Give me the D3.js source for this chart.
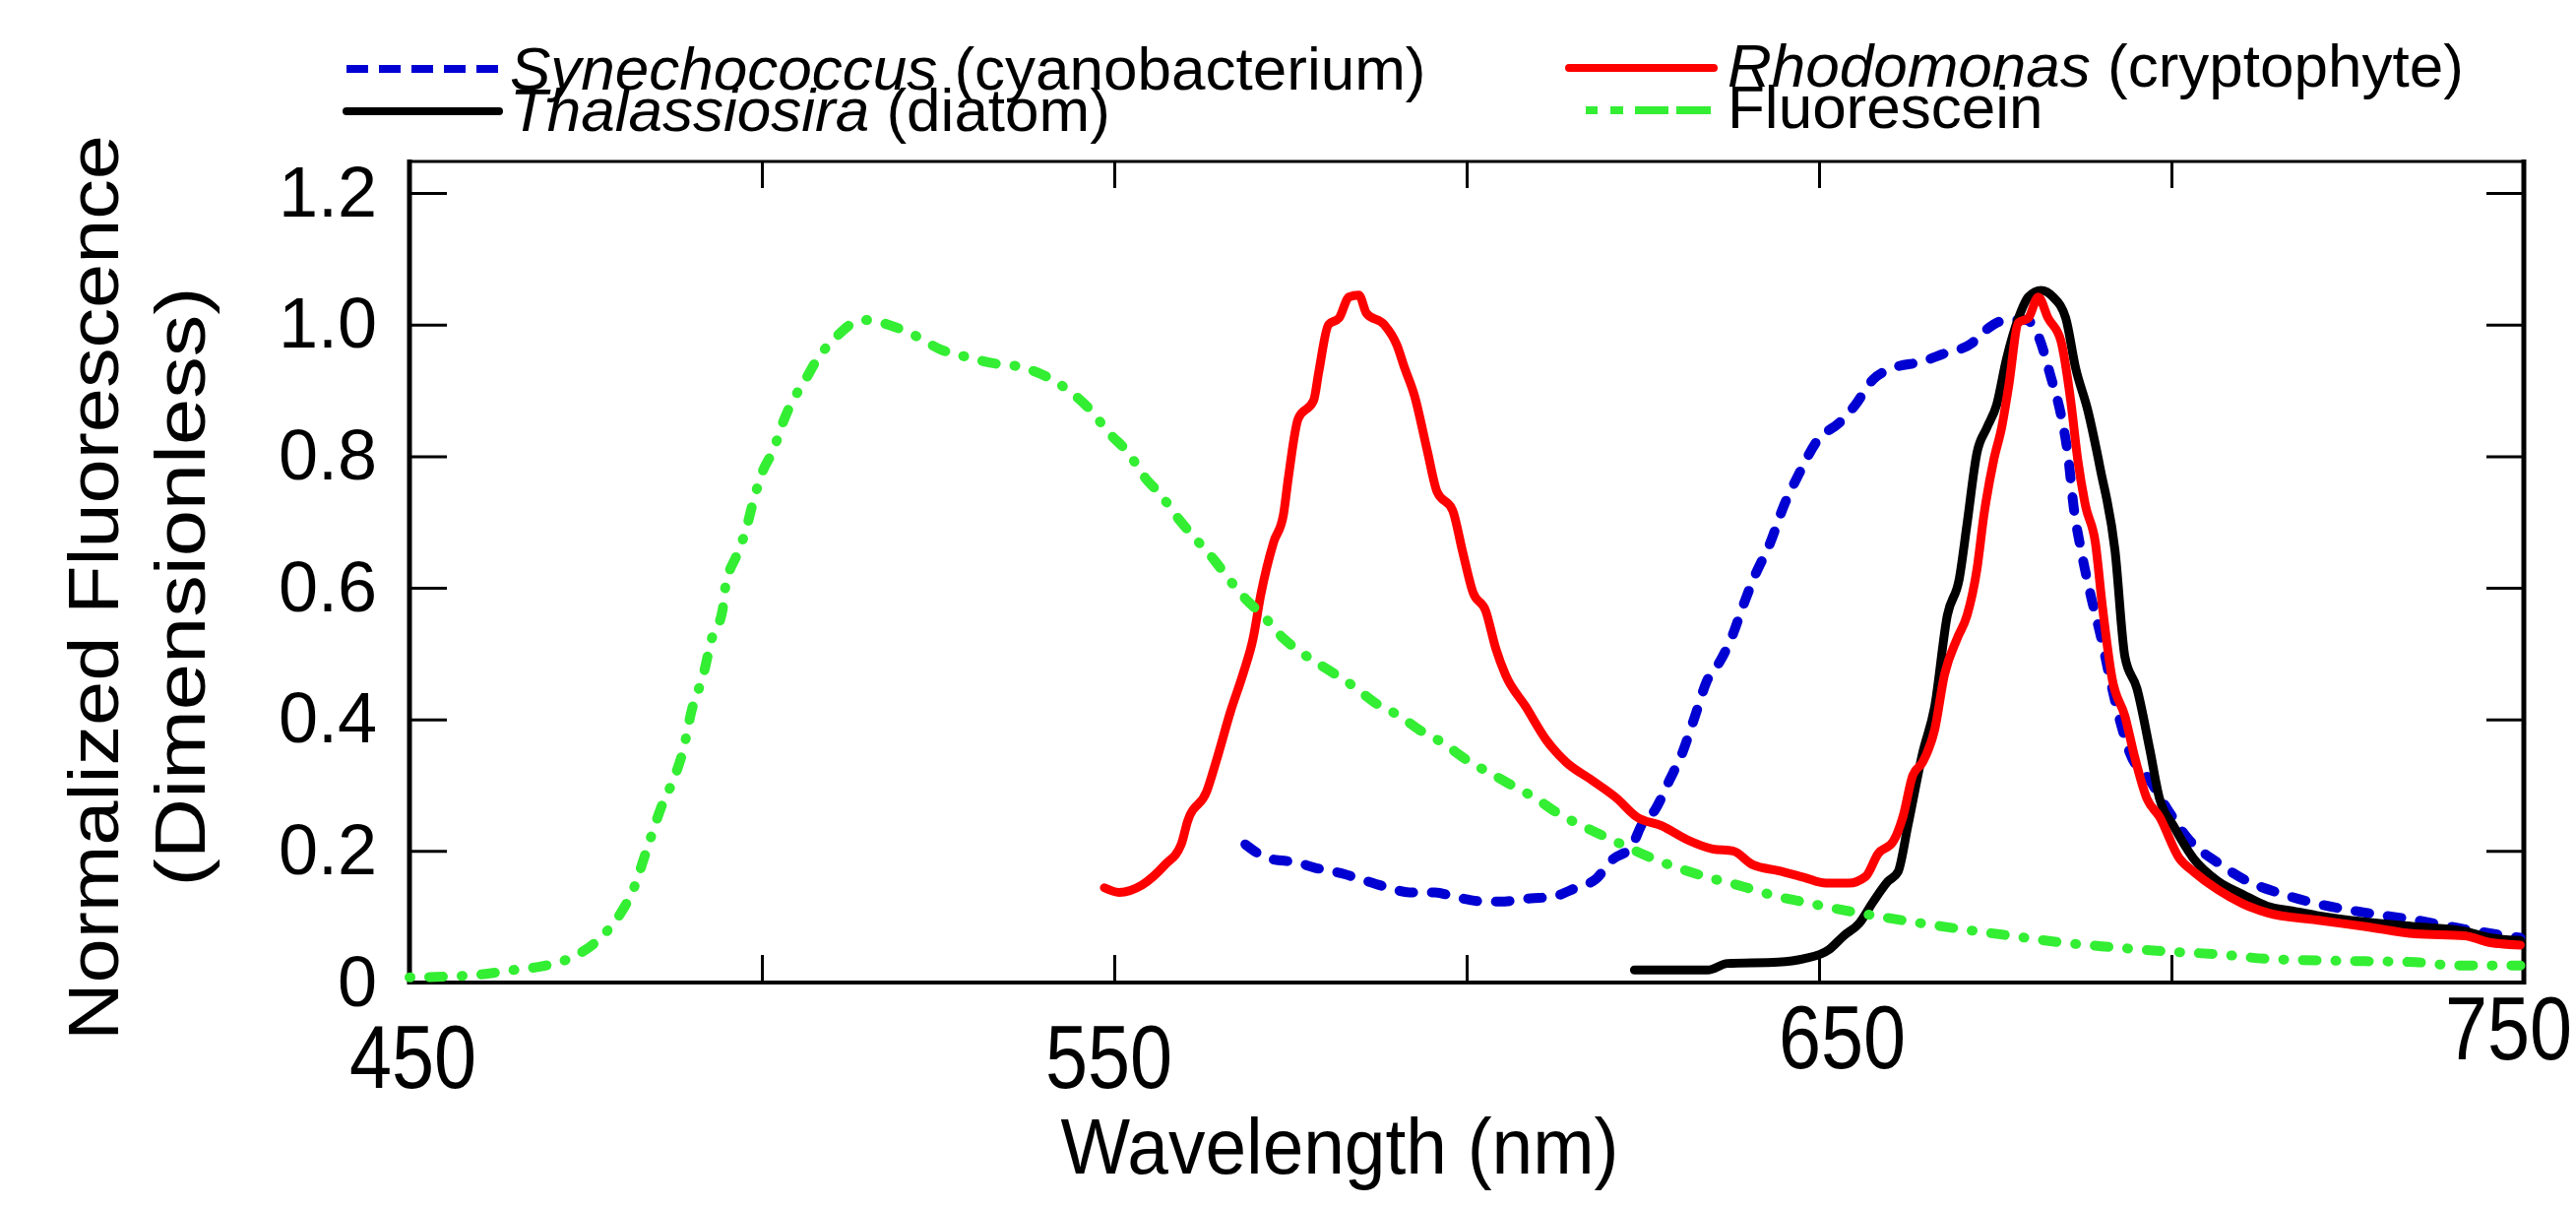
<!DOCTYPE html>
<html><head><meta charset="utf-8">
<script src="https://cdn.jsdelivr.net/npm/d3@7"></script>
<style>body{margin:0;background:#fff} text{font-family:"Liberation Sans",Arial,sans-serif;fill:#000}</style>
</head><body>
<svg id="chart" width="2617" height="1226"></svg>
<script>
// ---------- data ----------
const xLabelTicks = [450, 550, 650, 750];
const xMarkTicks = [500, 550, 600, 650, 700];
const yTickValues = [0, 0.2, 0.4, 0.6, 0.8, 1.0, 1.2];

const synNm  = [568.6,571.8,576.1,578.3,582.6,584.7,589,591.9,595.5,598.4,602.7,604.8,609.1,612,615.5,618.4,620.6,623.4,624.9,626.7,628.8,630.6,632.4,634.2,635.6,637.8,639.2,641,643.1,644.9,647.1,649.9,652.8,655,657.7,660.5,664.7,667.5,671.7,673.8,676.6,679.4,681.1,682.9,684.3,685.4,686.1,687.2,688.6,689.9,691.3,692.7,694.1,696.9,699.7,702.5,706.6,710.8,715,720.6,727.6,734.6,741.6,749.5];
const synVal = [0.21,0.189,0.182,0.175,0.165,0.158,0.144,0.137,0.137,0.13,0.123,0.123,0.128,0.13,0.144,0.158,0.186,0.207,0.241,0.262,0.308,0.349,0.405,0.461,0.482,0.53,0.572,0.621,0.669,0.722,0.772,0.826,0.85,0.876,0.917,0.934,0.944,0.955,0.972,0.993,1.007,1.007,0.983,0.92,0.864,0.795,0.725,0.656,0.586,0.53,0.461,0.398,0.349,0.308,0.259,0.217,0.182,0.154,0.137,0.12,0.106,0.095,0.081,0.068];

const thalNm  = [623.8,634.2,637,644.2,647.8,651.4,653.5,655.7,657.7,659.8,661.2,662.6,664.7,666.4,668.2,669.9,671,672.4,673.8,675.2,676.6,678.3,679.7,681.5,683.2,685,686.4,688.1,689.9,692,693.4,695.1,696.9,698.3,700.3,703.1,706.6,710.1,713.6,717.1,720.6,727.6,734.6,741.6,745.1,749.5];
const thalVal = [0.019,0.019,0.029,0.031,0.036,0.05,0.071,0.09,0.123,0.154,0.168,0.238,0.349,0.419,0.558,0.614,0.697,0.805,0.843,0.878,0.948,1.01,1.042,1.052,1.042,1.01,0.934,0.871,0.781,0.656,0.495,0.447,0.356,0.28,0.238,0.189,0.154,0.134,0.116,0.109,0.102,0.092,0.085,0.078,0.068,0.064];

const rhoNm  = [548.6,550.7,553.9,557.2,559.5,560.4,563.1,564.7,566.5,568.3,569.7,570.8,572.6,574,574.7,576.1,578.3,579,580.4,581.9,583.3,584.7,585.8,588.3,590.1,591.2,592.6,594.4,595.8,598,599.4,600.9,602.7,604.1,605.5,608.4,611.2,614.1,617.7,621.3,624.1,627.7,631.3,634.9,637.8,640.6,644.2,647.8,651,654.2,656.6,658.4,660.5,661.9,663.3,664.7,666.4,667.8,669.6,671,672.4,673.4,674.8,675.9,676.9,678.3,679.7,681.1,682.5,684.3,685.7,686.7,687.8,689.2,690.2,691.6,693.4,694.8,696.5,698.3,701.1,703.2,706.6,710.1,713.6,720.6,727.6,734.6,741.6,745.1,749.5];
const rhoVal = [0.144,0.137,0.148,0.179,0.21,0.245,0.29,0.345,0.412,0.47,0.523,0.59,0.669,0.711,0.767,0.857,0.885,0.927,1.0,1.01,1.042,1.045,1.017,1.0,0.969,0.934,0.892,0.809,0.746,0.718,0.656,0.593,0.565,0.509,0.468,0.419,0.37,0.335,0.308,0.28,0.252,0.238,0.217,0.203,0.2,0.179,0.17,0.16,0.151,0.151,0.161,0.196,0.214,0.252,0.315,0.335,0.384,0.468,0.523,0.558,0.628,0.711,0.795,0.843,0.906,1.003,1.01,1.042,1.01,0.976,0.885,0.795,0.725,0.669,0.572,0.461,0.405,0.342,0.28,0.252,0.189,0.168,0.141,0.12,0.106,0.095,0.085,0.074,0.071,0.061,0.057];

const fluoNm  = [450,455,460,464.7,469.4,473.4,477,480,481.7,483.7,485.7,487.7,488.9,490,491.7,492.9,494.4,494.8,496.4,497.6,498.8,500,501.6,503.2,504.4,506,507.9,510.7,513.1,515.1,517.9,521.8,525.4,529,533,536.1,540,544,546.8,549.2,552,554.4,556.7,559.1,561.5,564.2,566.5,569,571.1,574,576.9,580.4,584,586.9,590.5,593.3,596.2,600.5,603.4,606.2,609.8,612.7,617,622,626.3,630.6,634.9,638.5,644.4,648,652,657.7,663.3,670.3,677.3,684.3,691.3,699.7,706.6,713.6,724.1,734.6,740.2,749.5];
const fluoVal = [0.008,0.009,0.012,0.019,0.026,0.04,0.067,0.106,0.14,0.203,0.266,0.315,0.356,0.412,0.468,0.523,0.565,0.6,0.649,0.683,0.732,0.774,0.809,0.857,0.885,0.913,0.948,0.983,1.003,1.007,1.0,0.983,0.962,0.951,0.941,0.937,0.923,0.896,0.868,0.836,0.805,0.767,0.74,0.705,0.675,0.642,0.61,0.579,0.558,0.523,0.499,0.475,0.45,0.426,0.405,0.384,0.367,0.335,0.318,0.301,0.28,0.259,0.235,0.21,0.189,0.172,0.158,0.148,0.13,0.122,0.113,0.102,0.092,0.081,0.071,0.061,0.054,0.047,0.043,0.036,0.033,0.031,0.026,0.026];

const seriesNames = ["Synechococcus", "Thalassiosira", "Rhodomonas", "Fluorescein"];
const seriesNotes = [" (cyanobacterium)", " (diatom)", " (cryptophyte)", ""];

// ---------- layout / style ----------
const W = 2617, H = 1226;
const plot = {left: 416, right: 2564, top: 164, bottom: 998};
const colors = {syn: "#0000d2", thal: "#000000", rho: "#ff0000", fluo: "#33ee33"};
const FONT = "Liberation Sans, Arial, sans-serif";

const svg = d3.select("#chart");
svg.append("rect").attr("width", W).attr("height", H).attr("fill", "#fff");

const x = d3.scaleLinear().domain([450, 750]).range([plot.left, plot.right]);
const y = d3.scaleLinear().domain([0, 1.248]).range([plot.bottom, plot.top]);

// tick marks
const gB = svg.append("g").attr("transform", `translate(0,${plot.bottom})`)
  .call(d3.axisBottom(x).tickValues(xMarkTicks).tickSize(-28).tickFormat(""));
const gT = svg.append("g").attr("transform", `translate(0,${plot.top})`)
  .call(d3.axisTop(x).tickValues(xMarkTicks).tickSize(-27).tickFormat(""));
const gL = svg.append("g").attr("transform", `translate(${plot.left},0)`)
  .call(d3.axisLeft(y).tickValues(yTickValues).tickSize(-38).tickPadding(33)
        .tickFormat(d => d === 0 ? "0" : d3.format(".1f")(d)));
const gR = svg.append("g").attr("transform", `translate(${plot.right},0)`)
  .call(d3.axisRight(y).tickValues(yTickValues.filter(d => d > 0)).tickSize(-38).tickFormat(""));
[gB, gT, gL, gR].forEach(g => {
  g.select(".domain").remove();
  g.selectAll(".tick line").attr("stroke", "#000").attr("stroke-width", 3);
});
gL.selectAll(".tick text").attr("font-size", 72).attr("font-family", FONT).attr("fill", "#000");

// bottom tick labels (tall, slightly condensed digits as in the original)
const labelNudge = {450: [3, 0], 550: [-6, 0], 650: [23, -20], 750: [-16, -29]};
const gBL = svg.append("g").attr("transform", `translate(0,${plot.bottom})`)
  .call(d3.axisBottom(x).tickValues(xLabelTicks).tickSize(0).tickPadding(43).tickFormat(d3.format("d")));
gBL.select(".domain").remove();
gBL.selectAll(".tick text").attr("font-size", 90).attr("font-family", FONT).attr("fill", "#000")
  .attr("transform", d => `translate(${labelNudge[d][0]},${labelNudge[d][1]}) scale(0.86,1)`);

// frame
const frame = svg.append("g").attr("stroke", "#000");
frame.append("line").attr("x1", plot.left).attr("x2", plot.right).attr("y1", plot.top).attr("y2", plot.top).attr("stroke-width", 3);
frame.append("line").attr("x1", plot.left).attr("x2", plot.right + 2).attr("y1", plot.bottom).attr("y2", plot.bottom).attr("stroke-width", 4);
frame.append("line").attr("x1", plot.left).attr("x2", plot.left).attr("y1", plot.top - 2).attr("y2", plot.bottom + 2).attr("stroke-width", 5);
frame.append("line").attr("x1", plot.right).attr("x2", plot.right).attr("y1", plot.top - 2).attr("y2", plot.bottom + 2).attr("stroke-width", 5);

// curves
const line = d3.line().x(d => x(d[0])).y(d => y(d[1])).curve(d3.curveMonotoneX);
const zip = (a, b) => a.map((v, i) => [v, b[i]]);
const curves = [
  {data: zip(synNm, synVal), color: colors.syn, width: 10, dash: "14,19", cap: "round"},
  {data: zip(thalNm, thalVal), color: colors.thal, width: 9, dash: null, cap: "round"},
  {data: zip(rhoNm, rhoVal), color: colors.rho, width: 9, dash: null, cap: "round"},
  {data: zip(fluoNm, fluoVal), color: colors.fluo, width: 10, dash: "1,19,14,19", cap: "round"}
];
svg.append("g").selectAll("path").data(curves).join("path")
  .attr("d", d => line(d.data)).attr("fill", "none")
  .attr("stroke", d => d.color).attr("stroke-width", d => d.width)
  .attr("stroke-dasharray", d => d.dash).attr("stroke-linecap", d => d.cap)
  .attr("stroke-linejoin", "round");

// axis titles
svg.append("text").attr("x", 1361).attr("y", 1192).attr("text-anchor", "middle")
  .attr("font-size", 80).attr("textLength", 567).attr("lengthAdjust", "spacingAndGlyphs")
  .text("Wavelength (nm)");
svg.append("text").attr("transform", "translate(120,597) rotate(-90)").attr("text-anchor", "middle")
  .attr("font-size", 72).attr("textLength", 920).attr("lengthAdjust", "spacingAndGlyphs")
  .text("Normalized Fluorescence");
svg.append("text").attr("transform", "translate(208,596) rotate(-90)").attr("text-anchor", "middle")
  .attr("font-size", 72).attr("textLength", 609).attr("lengthAdjust", "spacingAndGlyphs")
  .text("(Dimensionless)");

// legend
const legendItems = [
  {i: 0, x1: 352, x2: 507, ly: 70, tx: 518, ty: 91, color: colors.syn, width: 8, dash: "22,11", cap: "butt"},
  {i: 1, x1: 352, x2: 507, ly: 113, tx: 518, ty: 133, color: colors.thal, width: 8, dash: null, cap: "round"},
  {i: 2, x1: 1594, x2: 1741, ly: 69, tx: 1755, ty: 88, color: colors.rho, width: 8, dash: null, cap: "round"},
  {i: 3, x1: 1611, x2: 1738, ly: 112, tx: 1755, ty: 130, color: colors.fluo, width: 8, dash: "12,13,13,12,34,8,38", cap: "butt"}
];
const lg = svg.append("g");
legendItems.forEach(it => {
  lg.append("line").attr("x1", it.x1).attr("x2", it.x2).attr("y1", it.ly).attr("y2", it.ly)
    .attr("stroke", it.color).attr("stroke-width", it.width).attr("stroke-dasharray", it.dash)
    .attr("stroke-linecap", it.cap);
  const t = lg.append("text").attr("x", it.tx).attr("y", it.ty).attr("font-size", 62);
  if (seriesNotes[it.i]) {
    t.append("tspan").attr("font-style", "italic").text(seriesNames[it.i]);
    t.append("tspan").text(seriesNotes[it.i]);
  } else {
    t.text(seriesNames[it.i]);
  }
});
</script>
</body></html>
